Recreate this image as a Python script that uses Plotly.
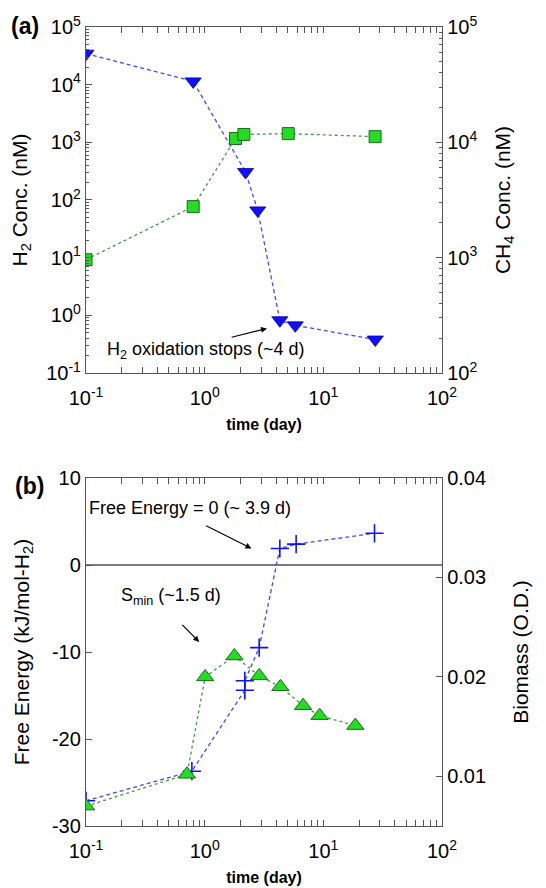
"""Two-panel H2 / CH4 / free energy / biomass figure, Plotly only."""

import math

import plotly.graph_objects as go

# ---- panel (a): concentrations ----
h2_time = [0.1, 0.80, 2.21, 2.8, 4.3, 5.8, 27.4]
h2_conc = [34500, 11400, 306, 66, 0.82, 0.67, 0.38]
ch4_time = [0.1, 0.80, 1.82, 2.14, 5.06, 27.3]
ch4_conc = [960, 2770, 10800, 11700, 11900, 11200]

# ---- panel (b): free energy and biomass ----
fe_time = [0.1, 0.78, 2.18, 2.18, 2.88, 4.3, 5.9, 27.0]
free_energy = [-27.1, -23.7, -14.4, -13.3, -9.5, 1.9, 2.4, 3.65]
bio_time = [0.1, 0.71, 1.01, 1.78, 2.88, 4.35, 6.75, 9.3, 18.6]
biomass = [0.0070, 0.0102, 0.0200, 0.0221, 0.0201, 0.0190, 0.0171, 0.0161, 0.0151]

# tick labels
time_ticks = [0.1, 1, 10, 100]
time_labels = ["10<sup>-1</sup>", "10<sup>0</sup>", "10<sup>1</sup>", "10<sup>2</sup>"]
h2_ticks = [0.1, 1, 10, 100, 1e3, 1e4, 1e5]
h2_labels = ["10<sup>-1</sup>", "10<sup>0</sup>", "10<sup>1</sup>", "10<sup>2</sup>",
             "10<sup>3</sup>", "10<sup>4</sup>", "10<sup>5</sup>"]
ch4_ticks = [1e2, 1e3, 1e4, 1e5]
ch4_labels = ["10<sup>2</sup>", "10<sup>3</sup>", "10<sup>4</sup>", "10<sup>5</sup>"]
fe_ticks = [-30, -20, -10, 0, 10]
fe_labels = ["-30", "-20", "-10", "0", "10"]
bio_ticks = [0.01, 0.02, 0.03, 0.04]

BLUE_LINE = "#4646ff"
BLUE_MARK = "#1010ff"
GREEN_LINE = "#3f9a3f"
GREEN_MARK = "#22dd22"
AXIS = "#555555"
FONT = "Liberation Sans, Arial, sans-serif"


def minor_log(lo, hi):
    return [m * 10 ** e for e in range(lo, hi) for m in range(2, 10)]


def lg(v):
    return math.log10(v)


fig = go.Figure()

# panel (a)
fig.add_trace(go.Scatter(
    x=h2_time, y=h2_conc, mode="lines+markers", xaxis="x", yaxis="y",
    line=dict(color=BLUE_LINE, width=1.3, dash="4px,3px"),
    marker=dict(symbol="triangle-down", size=14, color=BLUE_MARK,
                line=dict(color="#0000aa", width=0.8)),
    showlegend=False,
))
fig.add_trace(go.Scatter(
    x=ch4_time, y=ch4_conc, mode="lines+markers", xaxis="x", yaxis="y2",
    line=dict(color=GREEN_LINE, width=1.3, dash="3px,3px"),
    marker=dict(symbol="square", size=12, color=GREEN_MARK,
                line=dict(color="#1c6a1c", width=1)),
    showlegend=False,
))

# panel (b)
fig.add_trace(go.Scatter(
    x=fe_time, y=free_energy, mode="lines+markers", xaxis="x2", yaxis="y3",
    line=dict(color=BLUE_LINE, width=1.3, dash="4px,3px"),
    marker=dict(symbol="cross-thin", size=13, color=BLUE_MARK,
                line=dict(color=BLUE_MARK, width=1.6)),
    showlegend=False,
))
fig.add_trace(go.Scatter(
    x=bio_time, y=biomass, mode="lines+markers", xaxis="x2", yaxis="y4",
    line=dict(color=GREEN_LINE, width=1.3, dash="3px,3px"),
    marker=dict(symbol="triangle-up", size=15, color=GREEN_MARK,
                line=dict(color="#1c6a1c", width=1)),
    showlegend=False,
))

tick_font = dict(family=FONT, size=20, color="black")
title_font = dict(family=FONT, size=21, color="black")
common_x = dict(
    type="log", range=[-1, 2], tickmode="array", tickvals=time_ticks,
    ticktext=time_labels, ticks="inside", ticklen=6, tickcolor=AXIS,
    showline=True, linecolor=AXIS, linewidth=1.3, mirror="allticks",
    showgrid=False, zeroline=False, tickfont=tick_font, automargin=False,
    ticklabelstandoff=7,
    minor=dict(tickmode="array", tickvals=minor_log(-1, 2), ticks="inside",
               ticklen=3, tickcolor=AXIS, showgrid=False),
    title=dict(text="<b>time (day)</b>", font=dict(family=FONT, size=16, color="black"),
               standoff=10),
)

# the page body adds an 8 px offset, so the figure is 8 px smaller each way
fig.update_layout(
    width=538, height=880,
    margin=dict(l=78, r=104, t=19, b=62),
    paper_bgcolor="white", plot_bgcolor="white",
    font=dict(family=FONT, color="black"),
    xaxis=dict(common_x, domain=[0, 1], anchor="y"),
    yaxis=dict(
        type="log", range=[-1, 5], domain=[0.567, 1], anchor="x",
        tickmode="array", tickvals=h2_ticks, ticktext=h2_labels,
        ticks="inside", ticklen=6, tickcolor=AXIS, showline=True,
        linecolor=AXIS, linewidth=1.3, mirror=True, showgrid=False,
        zeroline=False, tickfont=tick_font, automargin=False,
        minor=dict(tickmode="array", tickvals=minor_log(-1, 5), ticks="inside",
                   ticklen=3, tickcolor=AXIS, showgrid=False),
        title=dict(text="H<sub>2</sub> Conc. (nM)", font=title_font, standoff=14),
    ),
    yaxis2=dict(
        type="log", range=[2, 5], overlaying="y", side="right", anchor="x",
        tickmode="array", tickvals=ch4_ticks, ticktext=ch4_labels,
        ticks="inside", ticklen=6, tickcolor=AXIS, showline=True,
        linecolor=AXIS, linewidth=1.3, showgrid=False, zeroline=False,
        tickfont=tick_font, automargin=False,
        minor=dict(tickmode="array", tickvals=minor_log(2, 5), ticks="inside",
                   ticklen=3, tickcolor=AXIS, showgrid=False),
        title=dict(text="CH<sub>4</sub> Conc. (nM)", font=title_font, standoff=18),
    ),
    xaxis2=dict(common_x, domain=[0, 1], anchor="y3"),
    yaxis3=dict(
        range=[-30, 10], domain=[0, 0.4355], anchor="x2",
        tickmode="array", tickvals=fe_ticks, ticktext=fe_labels,
        ticks="inside", ticklen=6, tickcolor=AXIS, showline=True,
        linecolor=AXIS, linewidth=1.3, mirror=True, showgrid=False,
        zeroline=True, zerolinecolor="#7a7a7a", zerolinewidth=1.5,
        tickfont=tick_font, automargin=False,
        title=dict(text="Free Energy (kJ/mol-H<sub>2</sub>)", font=title_font,
                   standoff=16),
    ),
    yaxis4=dict(
        range=[0.005, 0.04], overlaying="y3", side="right", anchor="x2",
        tickmode="array", tickvals=bio_ticks, tickformat=".2f",
        ticks="inside", ticklen=6, tickcolor=AXIS, showline=True,
        linecolor=AXIS, linewidth=1.3, showgrid=False, zeroline=False,
        tickfont=tick_font, automargin=False,
        title=dict(text="Biomass (O.D.)", font=title_font, standoff=28),
    ),
)

ann_font = dict(family=FONT, size=18, color="black")

# panel (a) annotation
fig.add_annotation(
    x=lg(3.35), y=lg(0.59), ax=lg(1.64), ay=lg(0.41), xref="x", yref="y",
    axref="x", ayref="y", text="", showarrow=True, arrowhead=2,
    arrowsize=1, arrowwidth=1.2, arrowcolor="black",
)
fig.add_annotation(
    x=lg(1.03), y=lg(0.25), xref="x", yref="y", showarrow=False,
    text="H<sub>2</sub> oxidation stops (~4 d)", font=ann_font,
)

# panel (b) annotations
fig.add_annotation(
    x=lg(2.48), y=1.9, ax=lg(1.0), ay=4.6, xref="x2", yref="y3",
    axref="x2", ayref="y3", text="", showarrow=True, arrowhead=2,
    arrowsize=1, arrowwidth=1.2, arrowcolor="black",
)
fig.add_annotation(
    x=lg(0.75), y=6.5, xref="x2", yref="y3", showarrow=False,
    text="Free Energy = 0 (~ 3.9 d)", font=ann_font,
)
fig.add_annotation(
    x=lg(0.90), y=-8.85, ax=lg(0.63), ay=-6.7, xref="x2", yref="y3",
    axref="x2", ayref="y3", text="", showarrow=True, arrowhead=2,
    arrowsize=1, arrowwidth=1.2, arrowcolor="black",
)
fig.add_annotation(
    x=lg(0.52), y=-3.65, xref="x2", yref="y3", showarrow=False,
    text="S<sub>min</sub> (~1.5 d)", font=ann_font,
)

# panel letters
fig.add_annotation(x=-0.215, y=1.001, xref="paper", yref="paper", xanchor="left",
                   yanchor="middle", showarrow=False, text="<b>(a)</b>",
                   font=dict(family=FONT, size=23, color="black"))
fig.add_annotation(x=-0.205, y=0.4255, xref="paper", yref="paper", xanchor="left",
                   yanchor="middle", showarrow=False, text="<b>(b)</b>",
                   font=dict(family=FONT, size=23, color="black"))

fig.write_html("out.html")
